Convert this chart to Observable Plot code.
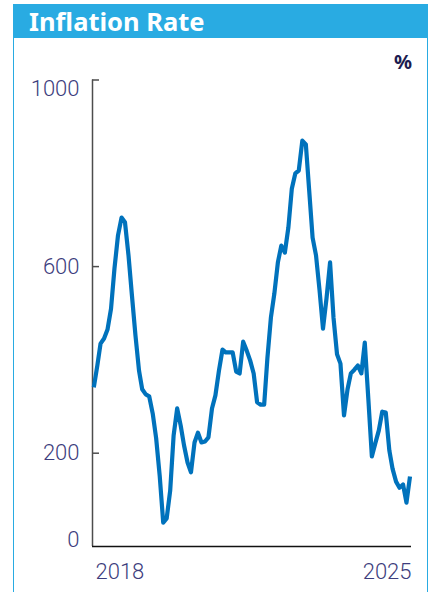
<!DOCTYPE html>
<html>
<head>
<meta charset="utf-8">
<script src="https://cdn.jsdelivr.net/npm/d3@7"></script>
<script src="https://cdn.jsdelivr.net/npm/@observablehq/plot@0.6"></script>
<style>
  html, body { margin: 0; padding: 0; background: #fff; }
  body { position: relative; width: 431px; height: 592px; overflow: hidden; font-family: Roboto, "Noto Sans", sans-serif; }
  #panel { position: absolute; left: 13px; top: 4px; width: 413px; height: 620px;
           border-left: 1.5px solid #29abe2; border-right: 1.5px solid #29abe2; }
  #header { position: absolute; left: 13px; top: 4px; width: 415px; height: 34px; background: #29abe2;
            color: #fff; font: bold 25.5px/34px "Noto Sans", sans-serif; padding-left: 16px; box-sizing: border-box; white-space: nowrap; }
  #unit { position: absolute; right: 19px; top: 52px; font: bold 20px/20px "Noto Sans", sans-serif; color: #1c1c50; }
  #chart { position: absolute; left: 0; top: 40px; }
</style>
</head>
<body>
<div id="panel"></div>
<div id="header">Inflation Rate</div>
<div id="unit">%</div>
<div id="chart"></div>
<script>
// Monthly inflation rate (%), January 2018 through August 2025
const rates = [
  341, 388, 435, 446, 465, 510, 596, 667, 705, 695, 624, 538,
  452, 377, 337, 326, 322, 285, 232, 152, 51, 60, 120, 238,
  296, 259, 217, 180, 159, 223, 244, 223, 225, 234, 296, 324,
  377, 422, 416, 416, 416, 375, 371, 439, 420, 399, 371, 309,
  304, 304, 403, 491, 542, 609, 645, 630, 684, 767, 800, 806,
  870, 862, 767, 662, 624, 549, 467, 532, 609, 491, 412, 392,
  281, 337, 371, 379, 388, 371, 437, 317, 193, 221, 249, 289,
  287, 206, 167, 139, 126, 133, 94, 150
];
const startMonth = new Date(Date.UTC(2018, 0, 1));
const months = d3.utcMonth.range(startMonth, d3.utcMonth.offset(startMonth, rates.length));
const series = rates.map((v, i) => ({date: months[i], rate: v}));

const yTicks = [0, 200, 600, 1000];
const yearLabels = ["2018", "2025"];

const first = months[0];
const last = months[months.length - 1];
const axisColor = "#4d4d4d";
const labelColor = "#3d3d7d";
const plotWidth = 431 - 93.3 - 21.5;

const chart = Plot.plot({
  width: 431,
  height: 552,
  marginLeft: 93.3,
  marginRight: 21.5,
  marginTop: 39.5,
  marginBottom: 46,
  x: {type: "utc", domain: [first, last], axis: null},
  y: {domain: [0, 1000], axis: null},
  style: {background: "transparent", overflow: "visible", fontFamily: "Roboto, sans-serif"},
  marks: [
    // vertical axis line and inward tick marks
    Plot.ruleX([first], {y1: 0, y2: 1000, stroke: axisColor, strokeWidth: 1.5, dx: -1.3}),
    Plot.tickY(yTicks.filter(v => v > 0), {stroke: axisColor, strokeWidth: 1.5, dx: -1.3, insetRight: plotWidth - 7}),
    // baseline
    Plot.ruleY([0], {stroke: "#111", strokeWidth: 1.5, insetLeft: -1.3, insetRight: -1.5}),
    // the series
    Plot.lineY(series, {x: "date", y: "rate", stroke: "#0072bc", strokeWidth: 4.2, strokeLinejoin: "round", strokeLinecap: "butt"}),
    // y tick labels: the top one hangs below its tick, the bottom one sits on the baseline
    Plot.text(yTicks.filter(v => v === 1000), {x: first, y: d => d, text: d => String(d), textAnchor: "end", lineAnchor: "top",
      dx: -14.3, fill: labelColor, fontSize: 22, fontWeight: 300}),
    Plot.text(yTicks.filter(v => v > 0 && v < 1000), {x: first, y: d => d, text: d => String(d), textAnchor: "end", lineAnchor: "middle",
      dx: -14.3, fill: labelColor, fontSize: 22, fontWeight: 300}),
    Plot.text(yTicks.filter(v => v === 0), {x: first, y: d => d, text: d => String(d), textAnchor: "end", lineAnchor: "bottom",
      dx: -14.3, fill: labelColor, fontSize: 22, fontWeight: 300}),
    // year labels at both ends of the time axis
    Plot.text([yearLabels[0]], {x: first, y: 0, text: d => d, textAnchor: "start", lineAnchor: "top",
      dx: 1.7, dy: 17, fill: labelColor, fontSize: 22, fontWeight: 300}),
    Plot.text([yearLabels[1]], {x: last, y: 0, text: d => d, textAnchor: "end", lineAnchor: "top",
      dx: 1.5, dy: 17, fill: labelColor, fontSize: 22, fontWeight: 300})
  ]
});
document.getElementById("chart").appendChild(chart);
</script>
</body>
</html>
